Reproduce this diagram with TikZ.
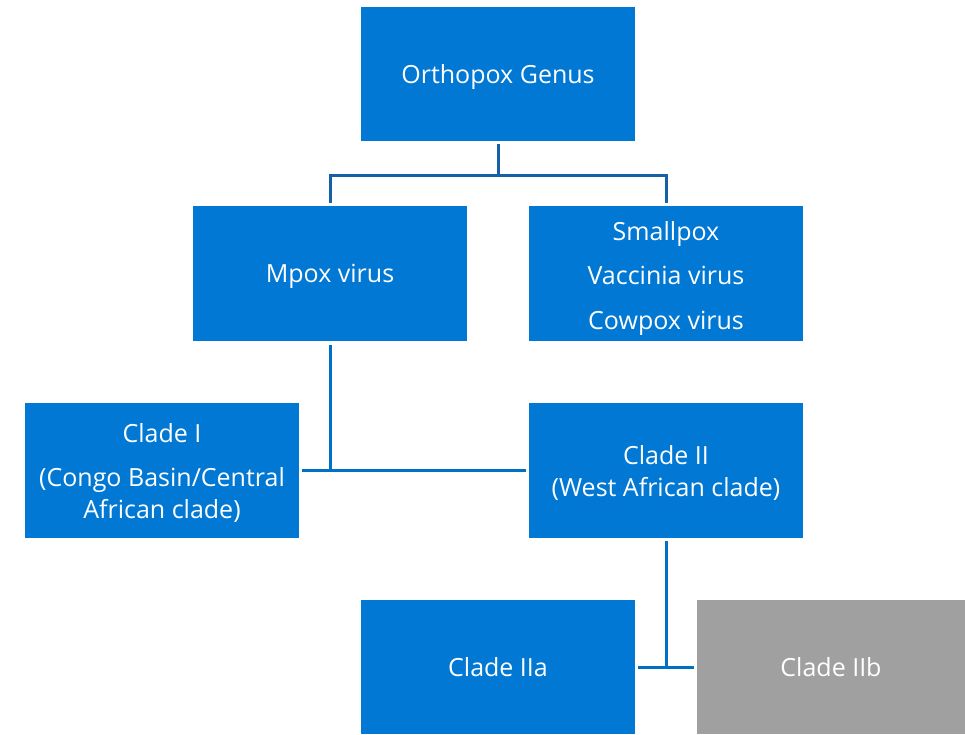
\documentclass[tikz,border=0pt]{standalone}
\usepackage{fontspec}
\setmainfont{Open Sans}
\usetikzlibrary{calc}
\definecolor{boxblue}{RGB}{0,120,212}
\definecolor{boxgray}{RGB}{160,160,160}
\definecolor{linetop}{RGB}{22,96,168}
\definecolor{linemain}{RGB}{0,112,196}
\newcommand{\toppad}[1]{\rule{0pt}{#1}}
\tikzset{
  box/.style={rectangle, fill=boxblue, draw=none, text=white, minimum width=274pt, minimum height=134pt, align=center, inner sep=0pt, font=\fontsize{25}{32}\selectfont},
  oneline/.style={text depth=0pt},
  graybox/.style={box, fill=boxgray, minimum width=268pt},
  conn/.style={draw=linemain, line width=3pt},
  conntop/.style={draw=linetop, line width=3pt}
}
\begin{document}
\begin{tikzpicture}[x=1pt,y=1pt]
\useasboundingbox (0,0) rectangle (965,734);
\node[box, oneline] (ortho) at (498,660) {Orthopox Genus};
\node[box, oneline, minimum height=135pt] (mpox) at (330,460.5) {Mpox virus};
\node[box, minimum height=135pt] (small) at (666,460.5) {\toppad{29pt}Smallpox\\[12.5pt]Vaccinia virus\\[12.5pt]Cowpox virus};
\node[box, minimum height=135pt] (c1) at (162,263.5) {\toppad{23pt}Clade I\\[12pt](Congo Basin/Central\\African clade)};
\node[box, minimum height=135pt] (c2) at (666,263.5) {\toppad{23pt}Clade II\\(West African clade)};
\node[box, oneline] (c2a) at (498,67) {Clade IIa};
\node[graybox, oneline] (c2b) at (831,67) {Clade IIb};
\coordinate (j1) at ($(ortho.south)+(0,-34)$);
\draw[conntop] ([yshift=-3pt]ortho.south) -- (j1);
\draw[conntop] ([yshift=3pt]mpox.north) |- (j1) -| ([yshift=3pt]small.north);
\draw[conn] ([yshift=-4pt]mpox.south) -- (mpox.south |- c1.east);
\draw[conn] ([xshift=3pt]c1.east) -- ([xshift=-3pt]c2.west);
\draw[conn] ([yshift=-3pt]c2.south) -- (c2.south |- c2a.east);
\draw[conn] ([xshift=3pt]c2a.east) -- ([xshift=-3pt]c2b.west);
\end{tikzpicture}
\end{document}
